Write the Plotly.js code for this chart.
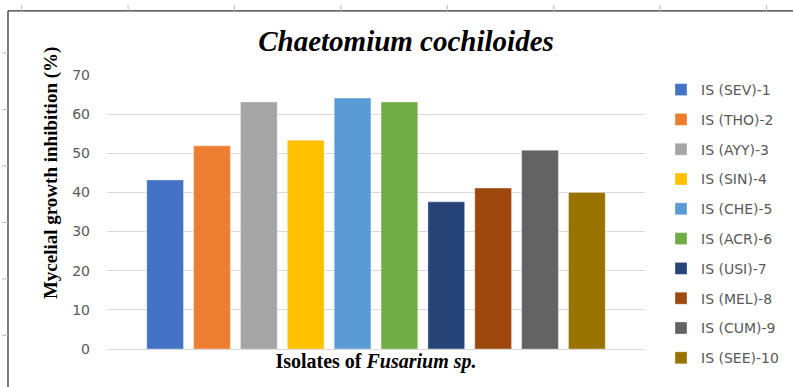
<!DOCTYPE html>
<html>
<head>
<meta charset="utf-8">
<script src="https://cdn.plot.ly/plotly-3.0.1.min.js"></script>
<style>html,body{margin:0;padding:0;background:#fff;}#chart{width:793px;height:387px;}</style>
</head>
<body>
<div id="chart"></div>
<script>
// ---- data ----
const categories = ["IS (SEV)-1", "IS (THO)-2", "IS (AYY)-3", "IS (SIN)-4", "IS (CHE)-5",
                    "IS (ACR)-6", "IS (USI)-7", "IS (MEL)-8", "IS (CUM)-9", "IS (SEE)-10"];
const values = [43.2, 51.9, 63.1, 53.3, 64.1, 63.1, 37.6, 41.1, 50.8, 40.0];
const colors = ["#4472C4", "#ED7D31", "#A5A5A5", "#FFC000", "#5B9BD5",
                "#70AD47", "#264478", "#9E480E", "#636363", "#997300"];
const yTickVals = [0, 10, 20, 30, 40, 50, 60, 70];
const groupLabel = ["Isolates"];

// ---- layout geometry (pixels) ----
const W = 793, H = 387;
const L = 107, R = 645, T = 75, B = 348.7;
const px2x = p => (p - L) / (R - L);
const px2y = p => (B - p) / (B - T);

const traces = categories.map((name, i) => ({
  type: 'bar',
  x: groupLabel,
  y: [values[i]],
  name: name,
  legendgroup: 'g' + i,
  marker: {color: colors[i], line: {color: 'rgba(255,255,255,0.35)', width: 1}},
  hoverinfo: 'name+y'
}));

// decorative frame
const shapes = [];
const frameColor = '#333333';
shapes.push({type: 'line', xref: 'paper', yref: 'paper', x0: px2x(8), x1: px2x(W + 5), y0: px2y(11), y1: px2y(11), line: {color: frameColor, width: 1.3}});
shapes.push({type: 'line', xref: 'paper', yref: 'paper', x0: px2x(8), x1: px2x(8), y0: px2y(11), y1: px2y(H + 5), line: {color: frameColor, width: 1.3}});
for (let k = 0; k < 8; k++) {
  const xp = 21.7 + k * 106.4;
  shapes.push({type: 'line', xref: 'paper', yref: 'paper', x0: px2x(xp), x1: px2x(xp), y0: px2y(5), y1: px2y(11), line: {color: '#BBBBBB', width: 1}});
}
for (let k = 0; k < 6; k++) {
  const yp = 53 + k * 56.4;
  shapes.push({type: 'line', xref: 'paper', yref: 'paper', x0: px2x(2), x1: px2x(8), y0: px2y(yp), y1: px2y(yp), line: {color: '#BBBBBB', width: 1}});
}

const layout = {
  width: W, height: H, autosize: false,
  margin: {l: L, r: W - R, t: T, b: H - B, pad: 0, autoexpand: false},
  paper_bgcolor: '#FFFFFF', plot_bgcolor: '#FFFFFF',
  showlegend: true,
  barmode: 'group',
  bargap: 0.129,
  bargroupgap: 0.216,
  title: {
    text: '<b><i>Chaetomium cochiloides</i></b>',
    font: {family: 'Liberation Serif, Times New Roman, serif', size: 29, color: '#000000'},
    x: 406 / W, xref: 'container', xanchor: 'center',
    y: 1 - 41 / H, yref: 'container', yanchor: 'middle'
  },
  xaxis: {
    type: 'category',
    showticklabels: false, ticks: '', showgrid: false, zeroline: false, showline: false,
    fixedrange: true,
    title: {
      text: '<b>Isolates of <i>Fusarium sp.</i></b>',
      font: {family: 'Liberation Serif, Times New Roman, serif', size: 20, color: '#000000'},
      standoff: 4
    },
    automargin: false
  },
  yaxis: {
    range: [0, 70], tickvals: yTickVals, ticktext: yTickVals.map(String),
    showgrid: true, gridcolor: '#D9D9D9', gridwidth: 1,
    zeroline: true, zerolinecolor: '#D9D9D9', zerolinewidth: 1,
    showline: false, ticks: '', ticklabelstandoff: 16,
    tickfont: {family: 'DejaVu Sans, sans-serif', size: 14, color: '#595959'},
    fixedrange: true, automargin: false
  },
  legend: {
    x: px2x(661), xanchor: 'left', xref: 'paper',
    y: px2y(74), yanchor: 'top', yref: 'paper',
    traceorder: 'grouped', tracegroupgap: 8.6,
    maxheight: 380,
    font: {family: 'DejaVu Sans, sans-serif', size: 14, color: '#595959'},
    bgcolor: 'rgba(0,0,0,0)', borderwidth: 0
  },
  annotations: [{
    text: '<b>Mycelial growth inhibition (%)</b>',
    xref: 'paper', yref: 'paper', x: px2x(51), y: px2y(173),
    xanchor: 'center', yanchor: 'middle', textangle: -90, showarrow: false,
    font: {family: 'Liberation Serif, Times New Roman, serif', size: 19, color: '#000000'}
  }],
  shapes: shapes
};

Plotly.newPlot('chart', traces, layout, {displayModeBar: false, staticPlot: true});
</script>
</body>
</html>
